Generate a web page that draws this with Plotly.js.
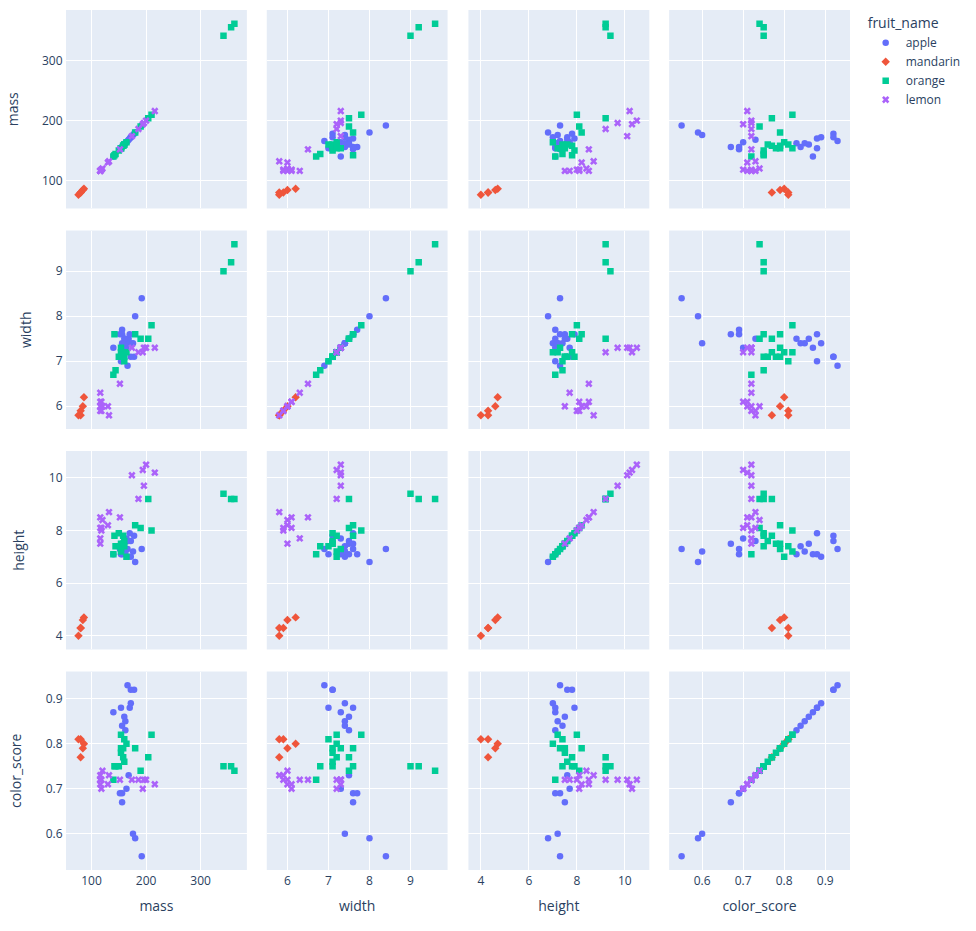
<!DOCTYPE html>
<html>
<head>
<meta charset="utf-8">
<script src="https://cdn.plot.ly/plotly-3.0.1.min.js"></script>
<style>html,body{margin:0;padding:0;background:#fff;}#chart{width:976px;height:931px;}</style>
</head>
<body>
<div id="chart"></div>
<script>
// fruit dataset
const fruit_name = ["apple","apple","apple","mandarin","mandarin","mandarin","mandarin","mandarin",
  "apple","apple","apple","apple","apple","apple","apple","apple","apple","apple",
  "apple","apple","apple","apple","apple","apple",
  "orange","orange","orange","orange","orange","orange","orange","orange","orange",
  "orange","orange","orange","orange","orange","orange","orange","orange","orange","orange",
  "lemon","lemon","lemon","lemon","lemon","lemon",
  "lemon","lemon","lemon","lemon","lemon","lemon","lemon","lemon","lemon","lemon"];
const mass = [192,180,176,86,84,80,80,76,
  178,172,166,172,154,164,152,156,156,168,
  162,162,160,156,140,170,
  342,356,362,204,140,160,158,210,164,
  190,142,150,160,154,158,144,154,180,154,
  194,200,186,216,196,174,
  132,130,116,118,120,116,116,116,152,118];
const width = [8.4,8.0,7.4,6.2,6.0,5.8,5.9,5.8,
  7.1,7.4,6.9,7.1,7.0,7.3,7.6,7.7,7.6,7.5,
  7.5,7.4,7.5,7.4,7.3,7.6,
  9.0,9.2,9.6,7.5,6.7,7.0,7.1,7.8,7.2,
  7.5,7.6,7.1,7.1,7.3,7.2,6.8,7.1,7.6,7.2,
  7.2,7.3,7.2,7.3,7.3,7.3,
  5.8,6.0,6.0,5.9,6.0,6.1,6.3,5.9,6.5,6.1];
const height = [7.3,6.8,7.2,4.7,4.6,4.3,4.3,4.0,
  7.8,7.0,7.3,7.6,7.1,7.7,7.3,7.1,7.5,7.6,
  7.1,7.2,7.5,7.4,7.1,7.9,
  9.4,9.2,9.2,9.2,7.1,7.4,7.5,8.0,7.0,
  8.1,7.8,7.9,7.6,7.3,7.8,7.4,7.5,8.2,7.2,
  10.3,10.5,9.2,10.2,9.7,10.1,
  8.7,8.2,7.5,8.0,8.4,8.5,7.7,8.1,8.5,8.1];
const color_score = [0.55,0.59,0.60,0.80,0.79,0.77,0.81,0.81,
  0.92,0.89,0.93,0.92,0.88,0.70,0.69,0.69,0.67,0.73,
  0.83,0.85,0.86,0.84,0.87,0.88,
  0.75,0.75,0.74,0.77,0.72,0.81,0.79,0.82,0.80,
  0.74,0.75,0.75,0.76,0.79,0.77,0.75,0.78,0.79,0.82,
  0.70,0.72,0.72,0.71,0.72,0.72,
  0.73,0.71,0.72,0.72,0.74,0.71,0.72,0.73,0.72,0.70];

const dimNames = ["mass","width","height","color_score"];
const dimValues = [mass, width, height, color_score];
const fruits = ["apple","mandarin","orange","lemon"];
const colors = ["#636efa","#EF553B","#00cc96","#ab63fa"];
const symbols = ["circle","diamond","square","x"];

const traces = [];
fruits.forEach((f, k) => {
  const idx = fruit_name.map((n, i) => n === f ? i : -1).filter(i => i >= 0);
  for (let r = 0; r < 4; r++) {
    for (let c = 0; c < 4; c++) {
      traces.push({
        type: "scatter", mode: "markers",
        name: f, legendgroup: f,
        showlegend: (r === 0 && c === 0),
        x: idx.map(i => dimValues[c][i]),
        y: idx.map(i => dimValues[r][i]),
        xaxis: "x" + (c ? c + 1 : ""),
        yaxis: "y" + (r ? r + 1 : ""),
        marker: {color: colors[k], symbol: symbols[k], size: 6.5}
      });
    }
  }
});

function padRange(arr) {
  const mn = Math.min(...arr), mx = Math.max(...arr);
  const p = (mx - mn) * 0.08;
  return [mn - p, mx + p];
}

const xDom = [[0, 0.2307], [0.2561, 0.4867], [0.5133, 0.7440], [0.7693, 1]];
const yDom = [[0.7692, 1], [0.5128, 0.7436], [0.2564, 0.4872], [0, 0.2308]];

const layout = {
  width: 976, height: 931,
  margin: {l: 66, r: 121, t: 10, b: 61},
  paper_bgcolor: "white", plot_bgcolor: "#E5ECF6",
  font: {family: '"Open Sans", verdana, arial, sans-serif', size: 12, color: "#2a3f5f"},
  showlegend: true,
  legend: {title: {text: "fruit_name"}, tracegroupgap: 0, x: 1.02, y: 1, xanchor: "left", yanchor: "top"},
  hovermode: "closest"
};
for (let j = 0; j < 4; j++) {
  const s = j ? j + 1 : "";
  layout["xaxis" + s] = {
    domain: xDom[j], anchor: "y4", range: padRange(dimValues[j]),
    gridcolor: "white", linecolor: "white", zerolinecolor: "white", zerolinewidth: 2,
    ticks: "", automargin: false,
    title: {text: dimNames[j], standoff: 12}
  };
  layout["yaxis" + s] = {
    domain: yDom[j], anchor: "x", range: padRange(dimValues[j]),
    gridcolor: "white", linecolor: "white", zerolinecolor: "white", zerolinewidth: 2,
    ticks: "", automargin: false,
    title: {text: dimNames[j], standoff: 20}
  };
}

Plotly.newPlot("chart", traces, layout, {displayModeBar: false});
</script>
</body>
</html>
